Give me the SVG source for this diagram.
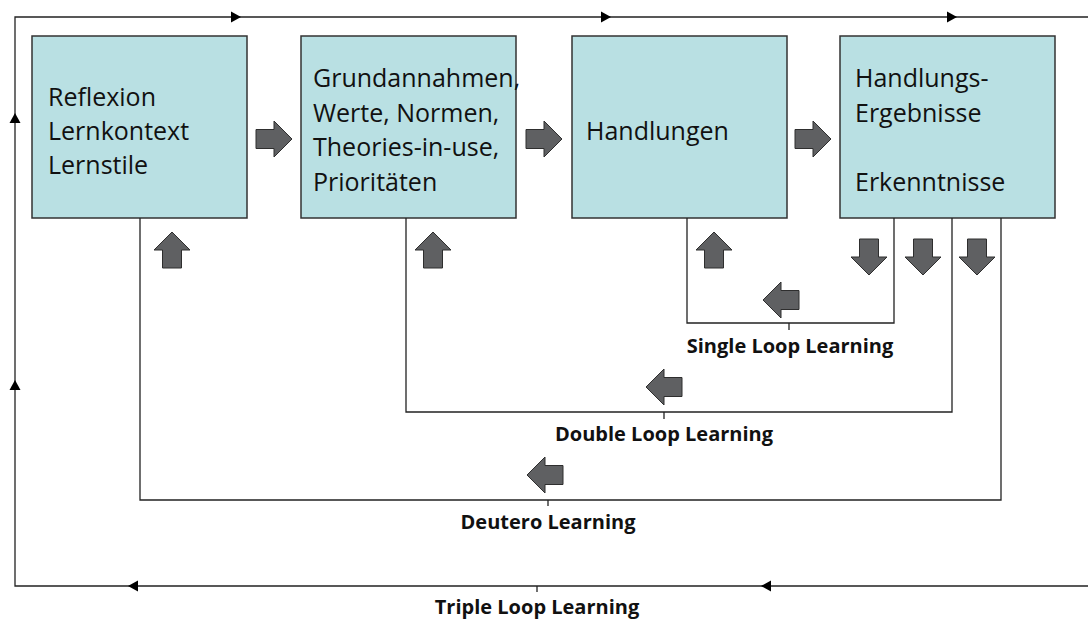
<svg xmlns="http://www.w3.org/2000/svg" width="1088" height="619" viewBox="0 0 1088 619">
  <style>
    .box { fill: #b9e0e3; stroke: #333333; stroke-width: 1.5; }
    .txt { font-family: "Open Sans", "Liberation Sans", sans-serif; font-size: 25px; fill: #111111; }
    .lbl { font-family: "Open Sans", "Liberation Sans", sans-serif; font-size: 20px; font-weight: bold; fill: #111111; text-anchor: middle; }
    .line { fill: none; stroke: #222222; stroke-width: 1.3; }
    .blk { fill: #5f6062; stroke: #2e2e2e; stroke-width: 1; }
    .tip { fill: #000000; }
  </style>
  <defs>
    <!-- block arrow pointing right, centred on the origin -->
    <path id="blk" d="M-18,-9.5 H0 V-18 L18,0 L0,18 V9.5 H-18 Z"/>
    <!-- small line arrowhead pointing right, tip at the origin -->
    <path id="tip" d="M0,0 L-10,-5.5 L-10,5.5 Z"/>
  </defs>

  <!-- nodes -->
  <g id="node-reflexion">
    <rect class="box" x="32" y="36" width="215" height="182"/>
    <text class="txt"><tspan x="48" y="106">Reflexion</tspan><tspan x="48" y="140">Lernkontext</tspan><tspan x="48" y="174">Lernstile</tspan></text>
  </g>
  <g id="node-grundannahmen">
    <rect class="box" x="301" y="36" width="215" height="182"/>
    <text class="txt"><tspan x="313" y="87">Grundannahmen,</tspan><tspan x="313" y="121.5">Werte, Normen,</tspan><tspan x="313" y="156">Theories-in-use,</tspan><tspan x="313" y="190.5">Prioritäten</tspan></text>
  </g>
  <g id="node-handlungen">
    <rect class="box" x="572" y="36" width="215" height="182"/>
    <text class="txt" x="586" y="140">Handlungen</text>
  </g>
  <g id="node-ergebnisse">
    <rect class="box" x="840" y="36" width="215" height="182"/>
    <text class="txt"><tspan x="855" y="87">Handlungs-</tspan><tspan x="855" y="121.5">Ergebnisse</tspan><tspan x="855" y="190.5">Erkenntnisse</tspan></text>
  </g>

  <!-- connectors -->
  <g id="connectors">
    <!-- triple loop frame -->
    <path class="line" d="M1088,17 H15 V586 H1088"/>
    <use href="#tip" class="tip" transform="translate(241,17)"/>
    <use href="#tip" class="tip" transform="translate(611,17)"/>
    <use href="#tip" class="tip" transform="translate(957,17)"/>
    <use href="#tip" class="tip" transform="translate(15,113) rotate(-90)"/>
    <use href="#tip" class="tip" transform="translate(15,380) rotate(-90)"/>
    <use href="#tip" class="tip" transform="translate(128,586) rotate(180)"/>
    <use href="#tip" class="tip" transform="translate(761,586) rotate(180)"/>
    <path class="line" d="M537,586 V592"/>

    <!-- single loop -->
    <path class="line" d="M687,218 V323 H894 V218"/>
    <path class="line" d="M789,323 V330"/>
    <!-- double loop -->
    <path class="line" d="M406,218 V412 H952 V218"/>
    <path class="line" d="M664,412 V419"/>
    <!-- deutero loop -->
    <path class="line" d="M140,218 V500 H1001 V218"/>
    <path class="line" d="M548,500 V506"/>

    <!-- block arrows between the boxes -->
    <use href="#blk" class="blk" transform="translate(274,139)"/>
    <use href="#blk" class="blk" transform="translate(544,139)"/>
    <use href="#blk" class="blk" transform="translate(813,139)"/>
    <!-- block arrows up into the boxes -->
    <use href="#blk" class="blk" transform="translate(172,250) rotate(-90)"/>
    <use href="#blk" class="blk" transform="translate(433,250) rotate(-90)"/>
    <use href="#blk" class="blk" transform="translate(714,250) rotate(-90)"/>
    <!-- block arrows down out of the results box -->
    <use href="#blk" class="blk" transform="translate(869,257) rotate(90)"/>
    <use href="#blk" class="blk" transform="translate(923,257) rotate(90)"/>
    <use href="#blk" class="blk" transform="translate(977,257) rotate(90)"/>
    <!-- block arrows running back along the loops -->
    <use href="#blk" class="blk" transform="translate(781,300) rotate(180)"/>
    <use href="#blk" class="blk" transform="translate(664,387) rotate(180)"/>
    <use href="#blk" class="blk" transform="translate(545,475) rotate(180)"/>
  </g>

  <!-- loop labels -->
  <g id="labels">
    <text class="lbl" x="790" y="353">Single Loop Learning</text>
    <text class="lbl" x="664" y="441">Double Loop Learning</text>
    <text class="lbl" x="548" y="529">Deutero Learning</text>
    <text class="lbl" x="537" y="614">Triple Loop Learning</text>
  </g>
</svg>
